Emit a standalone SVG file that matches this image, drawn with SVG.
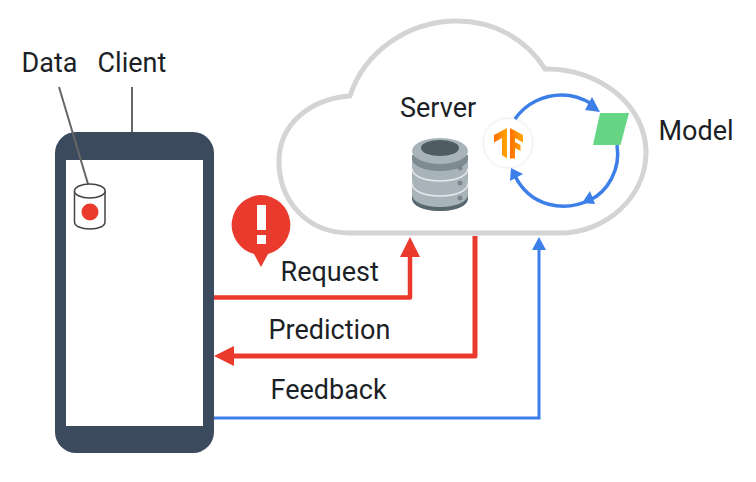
<svg xmlns="http://www.w3.org/2000/svg" width="756" height="482" viewBox="0 0 756 482">
<style>
text{font-family:"Roboto","Liberation Sans",sans-serif;font-size:27px;fill:#1c1f26}
.red{stroke:#ea3a2d;fill:none;stroke-linejoin:round}
.blue{stroke:#3d7fe8;fill:none}
.redf{fill:#ea3a2d}
.bluef{fill:#3d7fe8}
.lead{stroke:#666;stroke-width:2;fill:none}
</style>
<defs>
<linearGradient id="tf" x1="0" y1="0" x2="1" y2="0"><stop offset="0" stop-color="#ff6f00"/><stop offset="1" stop-color="#ffa800"/></linearGradient>
<filter id="sh" x="-20%" y="-20%" width="140%" height="140%"><feDropShadow dx="0" dy="0" stdDeviation="1.5" flood-color="#000" flood-opacity="0.18"/></filter>
</defs>
<rect width="756" height="482" fill="#fff"/>
<g id="cloud">
<path d="M350 233C306 233 279 200 279 161C279 125 309 99 350 96C364 52 408 21 457 21C495 21 527 40 545 69C600 68 646 106 646 152C646 198 605 233 560 233Z" fill="#fff" stroke="#d4d4d4" stroke-width="5" stroke-linejoin="round"/>
<text x="400" y="117">Server</text>
</g>
<g id="client">
<path fill-rule="evenodd" d="M76 132H193A21 21 0 0 1 214 153V432A21 21 0 0 1 193 453H76A21 21 0 0 1 55 432V153A21 21 0 0 1 76 132ZM66 160V426H203V160Z" fill="#3c4a5e"/>
<text x="97.500" y="72">Client</text>
<line class="lead" x1="132" y1="87" x2="132" y2="132"/>
</g>
<g id="data">
<text x="21.500" y="72">Data</text>
<line class="lead" x1="59" y1="87" x2="88" y2="184"/>
<path d="M74.500 191V222C74.500 226 81 229 90 229C99 229 105 226 105 222V191" fill="#fff" stroke="#444" stroke-width="1.500"/>
<ellipse cx="89.800" cy="191" rx="15.300" ry="7" fill="#fff" stroke="#444" stroke-width="1.500"/>
<circle cx="90" cy="212" r="8.500" fill="#ea3a2d"/>
</g>
<g id="alert">
<path class="redf" d="M261 195A30 30 0 0 1 268 254L261 267L254 254A30 30 0 0 1 261 195Z"/>
<rect x="257" y="205" width="9" height="25" fill="#fff"/>
<rect x="257" y="235" width="9" height="9" fill="#fff"/>
</g>
<g id="server">
<path d="M412 155V198C412 206 424 211 440 211C456 211 468 206 468 198V155Z" fill="#a9b4ba"/>
<path d="M412 198C412 206 424 211 440 211C456 211 468 206 468 198V194C468 202 456 207 440 207C424 207 412 202 412 194Z" fill="#58666e"/>
<path d="M412 168C412 176 424 181 440 181C456 181 468 176 468 168" fill="none" stroke="#e4e8ea" stroke-width="1.500"/>
<path d="M412 183C412 191 424 196 440 196C456 196 468 191 468 183" fill="none" stroke="#e4e8ea" stroke-width="1.500"/>
<path d="M412 155V158C412 166 424 171 440 171C456 171 468 166 468 158V155Z" fill="#7e8b92"/>
<ellipse cx="440" cy="151" rx="28" ry="13" fill="#a9b4ba"/>
<ellipse cx="440" cy="148" rx="19" ry="8" fill="#4f5c64"/>
<circle cx="460" cy="168" r="2.500" fill="#7c878d"/>
<circle cx="460" cy="183" r="2.500" fill="#7c878d"/>
<circle cx="460" cy="198" r="2.500" fill="#7c878d"/>
</g>
<g id="model">
<polygon points="600,113 629,113 620.500,145 593,145" fill="#66d586"/>
<text x="658.500" y="140">Model</text>
</g>
<g id="tensorflow">
<circle cx="508" cy="143" r="24" fill="#fff" filter="url(#sh)"/>
<polygon points="507,128 494,135 494,142.500 502,138 502,155 507,158.500" fill="url(#tf)"/>
<polygon points="510,128 523,135 523,142.500 515,138 515,142 520.500,145 520.500,151 515,148 515,158.500 510,158.500" fill="url(#tf)"/>
</g>
<g id="connectors">
<path class="red" stroke-width="4.500" d="M214 297.500H410V255"/>
<polygon class="redf" points="410,237 420,257 400,257"/>
<path class="red" stroke-width="5" d="M475 236V356H232"/>
<polygon class="redf" points="214,356 234,346 234,366"/>
<path class="blue" stroke-width="3" d="M214 418H539V248"/>
<polygon class="bluef" points="539,237 546,250 532,250"/>
<path class="blue" stroke-width="3.500" d="M515 119C526 103 544 95 562 95C572 95 582 98 592 104"/>
<polygon class="bluef" points="600,112 585,110 592,97"/>
<path class="blue" stroke-width="3.500" d="M617 145C621 170 607 192 590 200"/>
<polygon class="bluef" points="582,203 590,191 595,204"/>
<path class="blue" stroke-width="3.500" d="M590 200C565 212 530 208 514 174"/>
<polygon class="bluef" points="511,168 523,174 510,181"/>
</g>
<text x="280.500" y="281">Request</text>
<text x="268.500" y="339">Prediction</text>
<text x="270.500" y="399">Feedback</text>
</svg>
